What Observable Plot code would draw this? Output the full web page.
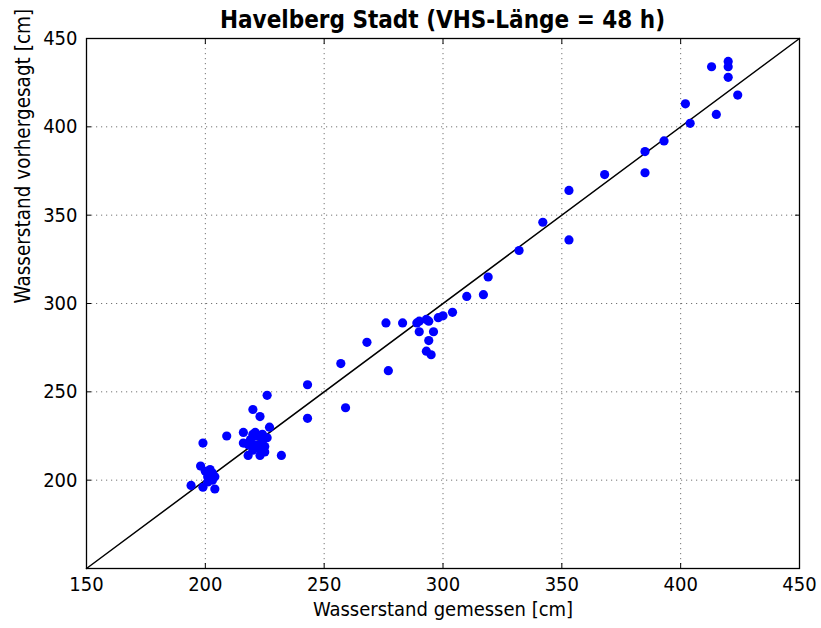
<!DOCTYPE html>
<html>
<head>
<meta charset="utf-8">
<script src="https://cdn.jsdelivr.net/npm/d3@7"></script>
<script src="https://cdn.jsdelivr.net/npm/@observablehq/plot@0.6"></script>
<style>
  html, body { margin: 0; padding: 0; background: #fff; }
  #wrap { position: relative; width: 821px; height: 628px; }
  #title { position: absolute; left: 86px; width: 713px; top: 8px; text-align: center; line-height: 1;
    font-family: "DejaVu Sans Condensed", "DejaVu Sans", sans-serif; font-weight: bold; font-size: 24px; color: #000; }
</style>
</head>
<body>
<div id="wrap"><div id="title">Havelberg Stadt (VHS-Länge = 48 h)</div></div>
<script>
const titleText = "Havelberg Stadt (VHS-Länge = 48 h)";
const xLabel = "Wasserstand gemessen [cm]";
const yLabel = "Wasserstand vorhergesagt [cm]";
const xTicks = [150, 200, 250, 300, 350, 400, 450];
const yTicks = [200, 250, 300, 350, 400, 450];
const diagonal = [150, 450];

const measured = [
  194, 199, 198, 200, 202, 203, 201, 204, 199, 204, 201, 203, 209,
  226, 220, 223, 227, 216, 216, 220, 218, 223, 225, 220, 232,
  219, 221, 222, 224, 225, 223, 221, 224, 218, 226,
  243, 243, 259, 257, 268, 277, 276, 283, 289, 290, 293, 294, 290, 296, 294, 293, 295,
  298, 300, 304, 310, 317, 319, 332, 342, 353, 353, 368, 385, 385, 393, 402, 404,
  413, 415, 420, 420, 420, 424
];
const predicted = [
  197, 221, 208, 205, 206, 204, 202, 202, 196, 195, 199, 200, 225,
  248, 240, 236, 230, 227, 221, 226, 214, 214, 216, 217, 214,
  223, 220, 225, 222, 219, 218, 227, 226, 220, 224,
  254, 235, 241, 266, 278, 262, 289, 289, 289, 290, 291, 290, 284, 284, 279, 273, 271,
  292, 293, 295, 304, 305, 315, 330, 346, 364, 336, 373, 374, 386, 392, 413, 402,
  434, 407, 437, 434, 428, 418
];

const points = measured.map((m, i) => ({m, p: predicted[i]}));
const font = "'DejaVu Sans Condensed', 'DejaVu Sans', sans-serif";

const chart = Plot.plot({
  width: 821,
  height: 628,
  marginLeft: 86,
  marginRight: 22,
  marginTop: 38,
  marginBottom: 60,
  style: {fontFamily: font, fontSize: "20px", color: "#000", background: "#fff"},
  x: {domain: [150, 450]},
  y: {domain: [150, 450]},
  marks: [
    Plot.gridX(xTicks.slice(1, -1), {stroke: "#000", strokeOpacity: 0.55, strokeDasharray: "1.2,3.8", strokeWidth: 1}),
    Plot.gridY(yTicks.slice(0, -1), {stroke: "#000", strokeOpacity: 0.55, strokeDasharray: "1.2,3.8", strokeWidth: 1}),
    Plot.line(diagonal, {x: d => d, y: d => d, stroke: "#000", strokeWidth: 1.5}),
    Plot.dot(points, {x: "m", y: "p", r: 4.6, fill: "#0000ff", stroke: "none"}),
    Plot.axisX(xTicks, {tickSize: 0, tickPadding: 8, fontSize: 20, label: null}),
    Plot.axisY(yTicks, {tickSize: 0, tickPadding: 9, fontSize: 20, label: null}),
    Plot.axisX(xTicks, {tickSize: -5, tickFormat: () => "", label: null}),
    Plot.axisX(xTicks, {anchor: "top", tickSize: -5, tickFormat: () => "", label: null}),
    Plot.axisY(yTicks, {tickSize: -5, tickFormat: () => "", label: null}),
    Plot.axisY(yTicks, {anchor: "right", tickSize: -5, tickFormat: () => "", label: null}),
    Plot.text([xLabel], {frameAnchor: "bottom", dy: 47, fontSize: 20, text: d => d}),
    Plot.text([yLabel], {frameAnchor: "left", dx: -63, rotate: -90, fontSize: 20.5, text: d => d}),
    Plot.frame({stroke: "#000", strokeWidth: 1.3})
  ]
});
document.getElementById("wrap").prepend(chart);
</script>
</body>
</html>
